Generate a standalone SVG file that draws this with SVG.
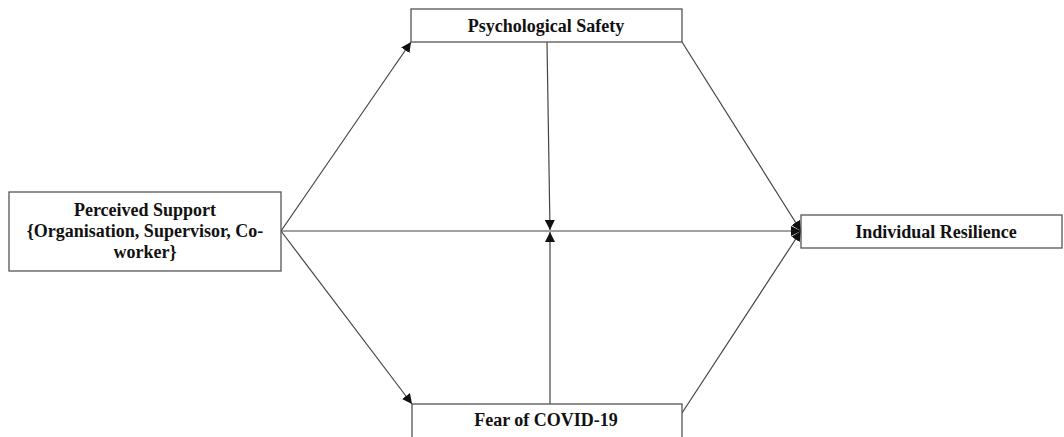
<svg xmlns="http://www.w3.org/2000/svg" width="1064" height="437" viewBox="0 0 1064 437">
  <style>
    .box { fill: #ffffff; stroke: #555555; stroke-width: 1.3; }
    .lbl { font-family: 'Liberation Serif', 'Times New Roman', Times, 'DejaVu Serif', serif; font-weight: 700; font-size: 18px; fill: #111111; text-anchor: middle; }
    .conn { stroke: #444444; stroke-width: 1.2; fill: none; }
  </style>
  <defs>
    <marker id="arr" viewBox="0 0 10 10" refX="10" refY="5" markerWidth="10" markerHeight="10" markerUnits="userSpaceOnUse" orient="auto">
      <path d="M0,0 L10,5 L0,10 z" fill="#111111"/>
    </marker>
  </defs>

  <g id="connectors">
    <line class="conn" x1="281" y1="231" x2="411" y2="42" marker-end="url(#arr)"/>
    <line class="conn" x1="281" y1="231" x2="412" y2="404" marker-end="url(#arr)"/>
    <line class="conn" x1="281" y1="231" x2="801" y2="231" marker-end="url(#arr)"/>
    <line class="conn" x1="682" y1="42" x2="801" y2="231" marker-end="url(#arr)"/>
    <line class="conn" x1="682" y1="413" x2="801" y2="231" marker-end="url(#arr)"/>
    <line class="conn" x1="547" y1="42" x2="550" y2="230" marker-end="url(#arr)"/>
    <line class="conn" x1="550" y1="404" x2="550" y2="232" marker-end="url(#arr)"/>
  </g>

  <g id="psychological-safety">
    <rect class="box" x="411" y="9" width="271" height="33"/>
    <text class="lbl" x="546" y="32">Psychological Safety</text>
  </g>

  <g id="perceived-support">
    <rect class="box" x="9" y="192" width="272" height="79"/>
    <text class="lbl" x="145" y="216">Perceived Support</text>
    <text class="lbl" x="145" y="237">{Organisation, Supervisor, Co-</text>
    <text class="lbl" x="145" y="258">worker}</text>
  </g>

  <g id="individual-resilience">
    <rect class="box" x="801" y="215" width="261" height="33"/>
    <text class="lbl" x="936" y="238">Individual Resilience</text>
  </g>

  <g id="fear-of-covid">
    <rect class="box" x="412" y="404" width="270" height="40"/>
    <text class="lbl" x="546" y="426">Fear of COVID-19</text>
  </g>
</svg>
